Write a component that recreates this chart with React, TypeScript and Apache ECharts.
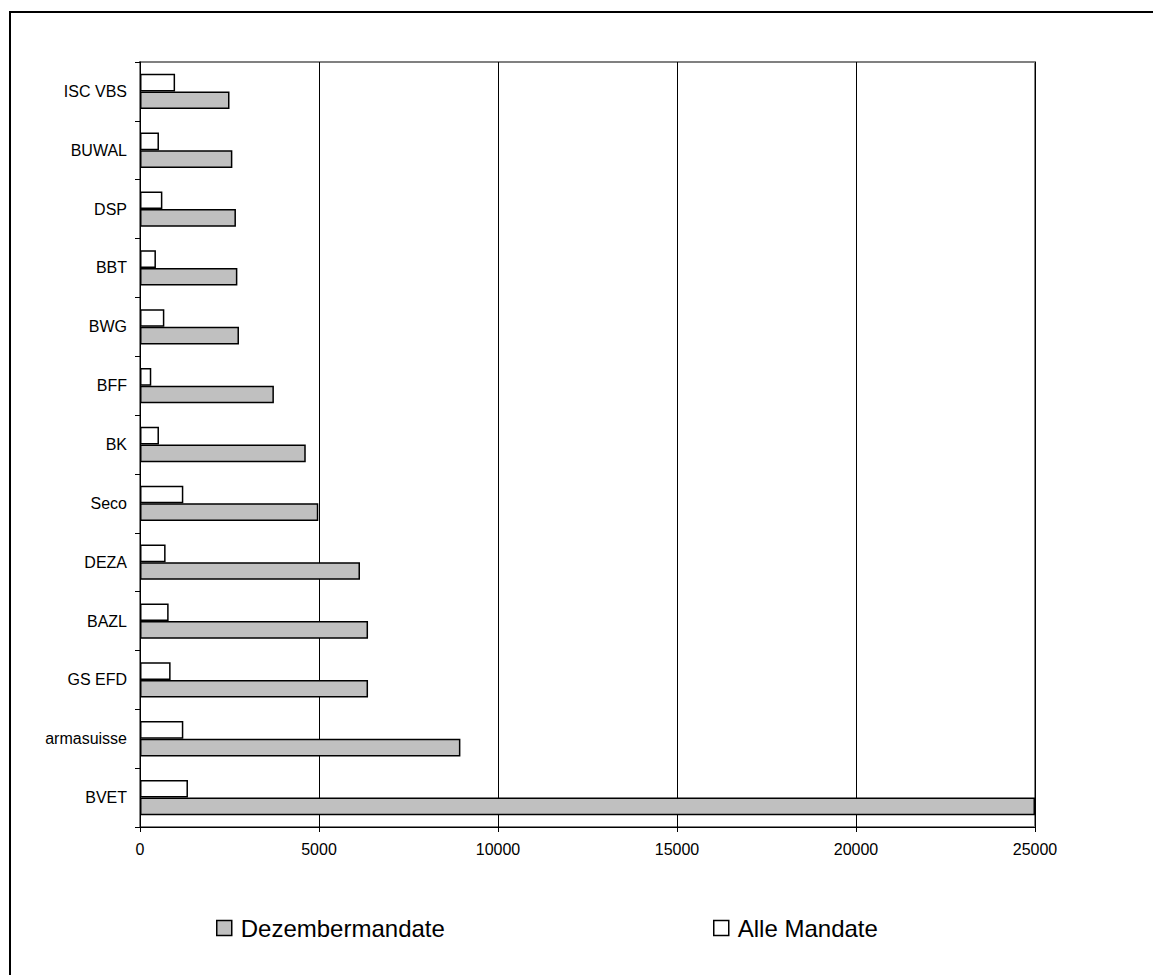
import React, { useEffect, useRef } from "react";
import * as echarts from "echarts";

const categories = ["BVET", "armasuisse", "GS EFD", "BAZL", "DEZA", "Seco", "BK", "BFF", "BWG", "BBT", "DSP", "BUWAL", "ISC VBS"];
const dezembermandate = [25000, 8950, 6370, 6370, 6145, 4980, 4630, 3740, 2765, 2720, 2680, 2580, 2500];
const alleMandate = [1340, 1210, 855, 800, 715, 1210, 530, 315, 680, 445, 625, 530, 980];
const xTicks = { min: 0, max: 25000, interval: 5000 };

const FONT = 'Arial, "Liberation Sans", sans-serif';

export default function App() {
  const ref = useRef<HTMLDivElement>(null);
  useEffect(() => {
    if (!ref.current) return;
    const chart = echarts.init(ref.current, null, { renderer: "svg" });
    chart.setOption({
      animation: false,
      backgroundColor: "#ffffff",
      textStyle: { fontFamily: FONT },
      graphic: [
        {
          type: "rect",
          shape: { x: 10, y: 12, width: 1300, height: 1100 },
          style: { fill: "none", stroke: "#000", lineWidth: 2 },
          silent: true,
        },
      ],
      grid: {
        left: 140,
        top: 62,
        width: 895,
        height: 765,
        show: true,
        borderColor: "#808080",
        borderWidth: 2,
        backgroundColor: "transparent",
      },
      legend: [
        {
          data: ["Dezembermandate"],
          left: 216,
          top: 916,
          padding: 0,
          icon: "rect",
          itemWidth: 15,
          itemHeight: 15,
          itemGap: 0,
          itemStyle: { borderColor: "#000", borderWidth: 1.5 },
          textStyle: { fontSize: 24, color: "#000", fontFamily: FONT, padding: [0, 0, 0, 4] },
        },
        {
          data: ["Alle Mandate"],
          left: 713,
          top: 916,
          padding: 0,
          icon: "rect",
          itemWidth: 15,
          itemHeight: 15,
          itemGap: 0,
          itemStyle: { borderColor: "#000", borderWidth: 1.5 },
          textStyle: { fontSize: 24, color: "#000", fontFamily: FONT, padding: [0, 0, 0, 4] },
        },
      ],
      xAxis: {
        type: "value",
        min: xTicks.min,
        max: xTicks.max,
        interval: xTicks.interval,
        axisLine: { show: true, lineStyle: { color: "#000", width: 1 } },
        axisTick: { show: true, length: 5, lineStyle: { color: "#000" } },
        axisLabel: {
          fontSize: 16,
          color: "#000",
          margin: 14,
          fontFamily: FONT,
          formatter: (v: number) => String(v),
        },
        splitLine: { show: true, lineStyle: { color: "#000", width: 1 } },
      },
      yAxis: {
        type: "category",
        data: categories,
        boundaryGap: true,
        axisLine: { show: true, lineStyle: { color: "#000", width: 1 } },
        axisTick: { show: true, length: 5, lineStyle: { color: "#000" } },
        axisLabel: { fontSize: 16, color: "#000", margin: 13, fontFamily: FONT },
        splitLine: { show: false },
      },
      series: [
        {
          name: "Alle Mandate",
          type: "bar",
          data: alleMandate,
          barGap: "0%",
          barCategoryGap: "40%",
          itemStyle: { color: "#ffffff", borderColor: "#000", borderWidth: 1.5 },
        },
        {
          name: "Dezembermandate",
          type: "bar",
          data: dezembermandate,
          barGap: "0%",
          barCategoryGap: "40%",
          itemStyle: { color: "#c0c0c0", borderColor: "#000", borderWidth: 1.5 },
        },
      ],
    });
    return () => chart.dispose();
  }, []);
  return (
    <div
      ref={ref}
      style={{ position: "fixed", left: 0, top: 0, width: 1153, height: 975 }}
    />
  );
}
